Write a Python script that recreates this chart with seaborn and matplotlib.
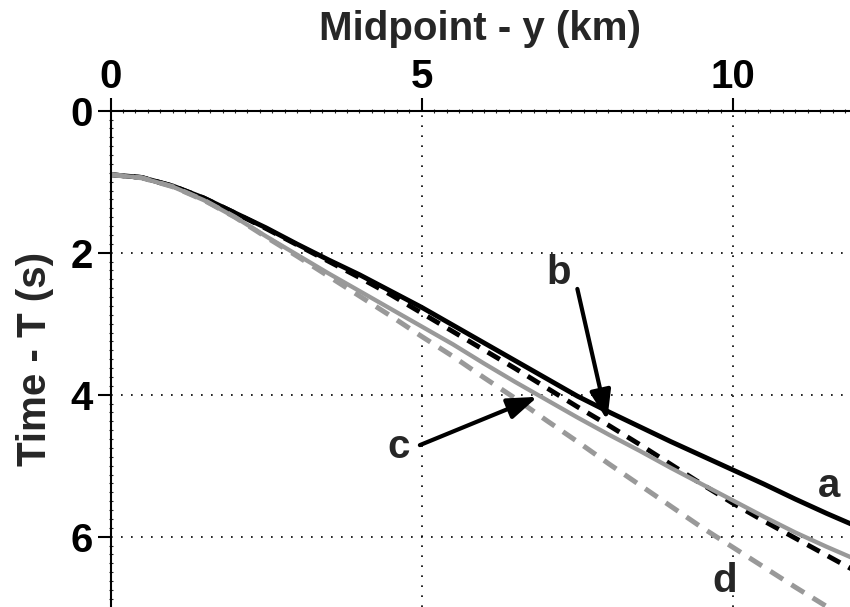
import matplotlib
matplotlib.use("Agg")
import matplotlib.pyplot as plt
from matplotlib.ticker import MultipleLocator
import seaborn as sns
import pandas as pd

# ---- data ----
midpoint_km = [0, 0.5, 1, 1.5, 2, 2.5, 3, 3.5, 4, 4.5, 5, 5.5, 6, 6.5, 7, 7.5,
               8, 8.5, 9, 9.5, 10, 10.5, 11, 11.5, 12]
curve_a = [0.90, 0.94, 1.06, 1.23, 1.44, 1.65, 1.88, 2.10, 2.31, 2.54, 2.77, 3.02, 3.27,
           3.52, 3.77, 4.02, 4.24, 4.45, 4.66, 4.86, 5.06, 5.26, 5.47, 5.67, 5.86]
curve_b = [0.90, 0.94, 1.06, 1.23, 1.44, 1.66, 1.89, 2.12, 2.35, 2.59, 2.85, 3.11, 3.37,
           3.63, 3.90, 4.17, 4.43, 4.70, 4.98, 5.26, 5.53, 5.78, 6.02, 6.26, 6.50]
curve_c = [0.90, 0.945, 1.07, 1.26, 1.50, 1.77, 2.03, 2.29, 2.54, 2.79, 3.04, 3.29, 3.56,
           3.82, 4.07, 4.32, 4.56, 4.79, 5.03, 5.26, 5.49, 5.72, 5.94, 6.14, 6.33]
curve_d = [0.90, 0.945, 1.07, 1.26, 1.50, 1.78, 2.05, 2.33, 2.61, 2.89, 3.18, 3.46, 3.76,
           4.05, 4.36, 4.66, 4.97, 5.27, 5.57, 5.87, 6.15, 6.43, 6.71, 6.98, 7.25]
curve_names = ["a", "b", "c", "d"]
x_ticks = [0, 5, 10]
y_ticks = [0, 2, 4, 6]

sns.set_style("white")
plt.rcParams["font.family"] = ["Liberation Sans", "DejaVu Sans"]
plt.rcParams["font.weight"] = "bold"

df = pd.DataFrame({
    "x": midpoint_km * 4,
    "t": curve_a + curve_b + curve_c + curve_d,
    "curve": sum([[n] * len(midpoint_km) for n in curve_names], []),
})

fig = plt.figure(figsize=(8.5, 6.07), dpi=100)
ax = fig.add_axes([110.5 / 850, 0, 739.5 / 850, (607 - 110.7) / 607])

styles = {
    "a": dict(color="black", lw=3.5, dashes=None),
    "b": dict(color="black", lw=3.5, dashes=(2.9, 1.9)),
    "c": dict(color="#999999", lw=3.1, dashes=None),
    "d": dict(color="#999999", lw=3.6, dashes=(3.0, 2.0)),
}
for name in ["a", "b", "c", "d"]:
    st = styles[name]
    sub = df[df["curve"] == name]
    sns.lineplot(data=sub, x="x", y="t", ax=ax, estimator=None, sort=False,
                 legend=False, color=st["color"], lw=st["lw"],
                 solid_capstyle="butt")
    if st["dashes"] is not None:
        ax.lines[-1].set_dashes(st["dashes"])
        ax.lines[-1].set_dash_capstyle("butt")

ax.set_xlim(0, 11.88)
ax.set_ylim(6.99, 0)

ax.xaxis.tick_top()
ax.xaxis.set_label_position("top")
ax.set_xticks(x_ticks)
ax.set_yticks(y_ticks)
ax.xaxis.set_minor_locator(MultipleLocator(0.2))
ax.yaxis.set_minor_locator(MultipleLocator(0.125))
ax.tick_params(axis="both", which="major", direction="out", length=9.5, width=1.5,
               labelsize=29, colors="black")
ax.tick_params(axis="x", which="major", pad=1)
ax.tick_params(axis="y", which="major", pad=3)
ax.tick_params(axis="both", which="minor", direction="inout", length=3, width=0.8)
ax.tick_params(axis="x", which="both", top=True, bottom=False)
ax.tick_params(axis="y", which="both", left=True, right=False)
for lab in ax.get_xticklabels() + ax.get_yticklabels():
    lab.set_fontweight("bold")

ax.set_xlabel("Midpoint - y (km)", fontsize=29, fontweight="bold", labelpad=13)
ax.set_ylabel("Time - T (s)", fontsize=29, fontweight="bold", labelpad=12)

ax.grid(True, which="major", color="black", lw=1.2, linestyle=(0, (1, 5)))
ax.set_axisbelow(True)
for side in ["bottom", "right"]:
    ax.spines[side].set_visible(False)
for side in ["top", "left"]:
    ax.spines[side].set_visible(True)
    ax.spines[side].set_linewidth(1.5)
    ax.spines[side].set_color("black")

# labels of curves
label_pos = {"a": (11.55, 5.29), "b": (7.20, 2.29), "c": (4.62, 4.74), "d": (9.87, 6.62)}
for name, (lx, ly) in label_pos.items():
    ax.text(lx, ly, name, fontsize=29, fontweight="bold", ha="center", va="center")

arrow_style = "-|>,head_length=0.45,head_width=0.16"
ax.annotate("", xy=(7.98, 4.36), xytext=(7.50, 2.51),
            arrowprops=dict(arrowstyle=arrow_style, color="black", lw=3,
                            mutation_scale=40, shrinkA=0, shrinkB=0))
ax.annotate("", xy=(6.86, 4.03), xytext=(4.97, 4.71),
            arrowprops=dict(arrowstyle=arrow_style, color="black", lw=3,
                            mutation_scale=40, shrinkA=0, shrinkB=0))

fig.savefig("out.png", dpi=100)
